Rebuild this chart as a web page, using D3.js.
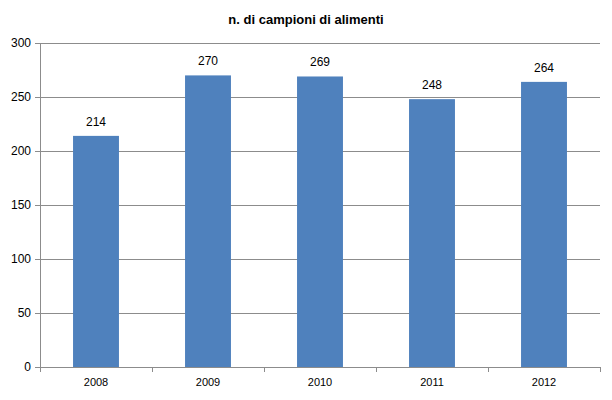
<!DOCTYPE html>
<html>
<head>
<meta charset="utf-8">
<script src="https://cdn.jsdelivr.net/npm/d3@7"></script>
<style>
  body { margin: 0; background: #fff; }
  text { font-family: "Liberation Sans", "DejaVu Sans", sans-serif; }
</style>
</head>
<body>
<svg width="612" height="400"></svg>
<script>
var years = ["2008", "2009", "2010", "2011", "2012"];
var samples = [214, 270, 269, 248, 264];
var yTicks = [0, 50, 100, 150, 200, 250, 300];

var svg = d3.select("svg"),
    margin = {top: 43, right: 12, bottom: 33, left: 40},
    width = +svg.attr("width") - margin.left - margin.right,
    height = +svg.attr("height") - margin.top - margin.bottom,
    g = svg.append("g").attr("transform", "translate(" + margin.left + "," + margin.top + ")");

var x = d3.scaleBand().domain(years).range([0, width]).paddingInner(0.59).paddingOuter(0.295);
var y = d3.scaleLinear().domain([0, 300]).range([height, 0]);

svg.append("text")
    .attr("x", 306).attr("y", 24)
    .attr("text-anchor", "middle")
    .attr("font-size", 13).attr("font-weight", "bold")
    .text("n. di campioni di alimenti");

// gridlines
g.append("g").selectAll("line")
  .data(yTicks.slice(1))
  .enter().append("line")
    .attr("x1", 0).attr("x2", width)
    .attr("y1", function(d) { return y(d); })
    .attr("y2", function(d) { return y(d); })
    .attr("stroke", "#8c8c8c").attr("stroke-width", 1)
    .attr("shape-rendering", "crispEdges");

// y axis
var yAxis = g.append("g")
    .call(d3.axisLeft(y).tickValues(yTicks).tickSize(5).tickPadding(4));
yAxis.selectAll("line, path").attr("stroke", "#8c8c8c").attr("shape-rendering", "crispEdges");
yAxis.selectAll("text").attr("font-size", 12).attr("fill", "#000");
yAxis.select("path").attr("d", "M-5,0.5H0.5V" + height);

// bars
g.append("g").selectAll("rect")
  .data(years)
  .enter().append("rect")
    .attr("x", function(d) { return x(d); })
    .attr("y", function(d, i) { return y(samples[i]); })
    .attr("width", x.bandwidth())
    .attr("height", function(d, i) { return height - y(samples[i]); })
    .attr("fill", "#4f81bd");

// value labels
g.append("g").selectAll("text")
  .data(years)
  .enter().append("text")
    .attr("x", function(d) { return x(d) + x.bandwidth() / 2; })
    .attr("y", function(d, i) { return y(samples[i]) - 10; })
    .attr("text-anchor", "middle")
    .attr("font-size", 12)
    .text(function(d, i) { return samples[i]; });

// x axis
var xAxis = g.append("g")
    .attr("transform", "translate(0," + height + ")")
    .call(d3.axisBottom(x).tickSize(0).tickPadding(11));
xAxis.select("path").attr("stroke", "#8c8c8c").attr("shape-rendering", "crispEdges");
xAxis.selectAll("text").attr("font-size", 11).attr("fill", "#000");

var step = x.step();
xAxis.selectAll(".sep")
  .data(d3.range(years.length + 1))
  .enter().append("line")
    .attr("x1", function(i) { return i * step; })
    .attr("x2", function(i) { return i * step; })
    .attr("y1", 0).attr("y2", 5)
    .attr("stroke", "#8c8c8c")
    .attr("shape-rendering", "crispEdges");
</script>
</body>
</html>
